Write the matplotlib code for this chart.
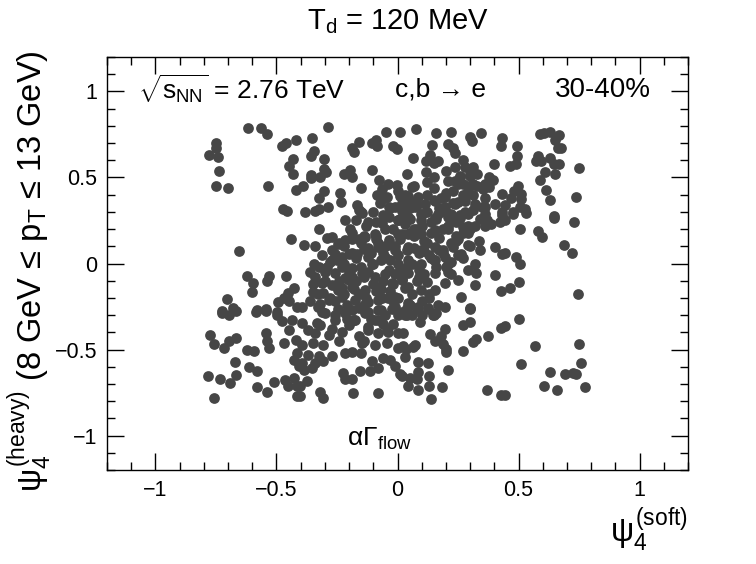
import numpy as np
import matplotlib.pyplot as plt
from matplotlib.ticker import MultipleLocator, FuncFormatter

plt.rcParams['font.family'] = ['Liberation Sans', 'DejaVu Sans']
plt.rcParams['mathtext.fontset'] = 'custom'
plt.rcParams['mathtext.rm'] = 'Liberation Sans'
plt.rcParams['mathtext.it'] = 'Liberation Sans'
plt.rcParams['mathtext.bf'] = 'Liberation Sans:bold'

# event-plane angles (psi_4 soft, psi_4 heavy)
psi_soft = [
    -0.619, -0.562, -0.541, -0.749, -0.748, -0.777, -0.743, -0.736, -0.751, -0.700,
    -0.537, -0.479, -0.459, -0.421, -0.433, -0.449, -0.431, -0.421, -0.474, -0.456,
    -0.288, -0.354, -0.343, -0.357, -0.303, -0.189, -0.178, -0.157, -0.048, 0.012,
    -0.107, -0.088, -0.084, -0.017, -0.003, -0.303, -0.295, -0.357, -0.357, -0.322,
    -0.220, -0.198, -0.189, -0.107, -0.076, -0.390, -0.151, -0.003, -0.304, -0.326,
    -0.238, -0.234, -0.288, -0.381, -0.340, -0.324, -0.167, -0.157, -0.085, -0.065,
    -0.044, -0.071, -0.037, -0.010, 0.011, 0.018,
    0.076, 0.161, 0.220, 0.299, 0.306, 0.343, 0.430, 0.426, 0.143, 0.209,
    0.230, 0.237, 0.065, 0.134, 0.116, 0.150, 0.168, 0.041, 0.116, 0.152,
    0.120, 0.200, 0.237, 0.271, 0.278, 0.313, 0.299, 0.257, 0.237, 0.271,
    0.313, 0.292, 0.354, 0.377, 0.395, 0.400, 0.430, 0.058, 0.044, 0.086,
    0.030, 0.072, 0.113, 0.154, 0.195, 0.195, 0.237, 0.278, 0.319, 0.361,
    0.402, 0.099, 0.168, 0.223, 0.292, 0.361, 0.430,
    0.587, 0.607, 0.628, 0.669, 0.652, 0.662, 0.676, 0.493, 0.495, 0.463,
    0.490, 0.580, 0.573, 0.594, 0.628, 0.646, 0.669, 0.610, 0.649, 0.749,
    0.587, 0.613, 0.497, 0.483, 0.511, 0.470, 0.511, 0.628, 0.738, 0.442,
    0.504, 0.528, 0.476, 0.646,
    -0.439, -0.653, -0.621, -0.598, -0.603, -0.529, -0.538, -0.460, -0.428, -0.452,
    -0.470, -0.493, -0.449, -0.414, -0.704, -0.681, -0.724, -0.580, -0.543, -0.497,
    -0.326, -0.386, -0.196, -0.216, -0.147, -0.120, -0.271, -0.244, -0.216, -0.189,
    -0.161, -0.134, -0.257, -0.230, -0.202, -0.168, -0.120, -0.140, -0.343, -0.326,
    -0.278, -0.230, -0.189, -0.340, -0.299, -0.257, -0.216, -0.313, -0.271, -0.347,
    -0.306, -0.361, -0.320, -0.395, -0.285,
    -0.092, -0.065, -0.037, 0.004, -0.079, -0.037, 0.004, -0.106, -0.051, -0.010,
    -0.147, -0.092, -0.037, 0.004, -0.189, -0.134, -0.079, -0.024, 0.018, -0.230,
    -0.175, -0.120, -0.065, -0.010, -0.244, -0.189, -0.134, -0.079, -0.024, -0.202,
    -0.244,
    0.044, 0.099, 0.154, 0.209, 0.257, 0.299, 0.271, 0.361, 0.388, 0.423,
    0.430, 0.336, 0.402, 0.430, 0.044, 0.099, 0.154, 0.209, 0.251, 0.292,
    0.230, 0.264, 0.044, 0.099, 0.154, 0.195, 0.044, 0.099, 0.154, 0.223,
    0.319, 0.292, 0.326, 0.402, 0.319, 0.427, 0.264, 0.299, 0.251, 0.195,
    0.154, 0.044, 0.099, 0.154, 0.209, 0.044, 0.099, 0.044, 0.086, 0.127,
    0.168, 0.195,
    0.476, 0.532, 0.442, 0.645, 0.731, 0.507, 0.580, 0.596, 0.686, 0.722,
    0.442, 0.490, 0.508, 0.500, 0.463, 0.745,
    -0.724, -0.697, -0.669, -0.583, -0.543, -0.497, -0.479, -0.773, -0.759, -0.718,
    -0.697, -0.669, -0.543, -0.538, -0.532, -0.621, -0.594, -0.672, -0.614, -0.580,
    -0.784, -0.734, -0.690, -0.667, -0.759, -0.580, -0.541, -0.511, -0.466, -0.452,
    -0.428, -0.414, -0.470, -0.449, -0.435, -0.421, -0.428, -0.414, -0.408, -0.414,
    -0.395, -0.368, -0.333, -0.299, -0.257, -0.216, -0.175, -0.134, -0.092, -0.051,
    -0.120, -0.079, -0.044, 0.004, -0.285, -0.340, -0.395, -0.347, -0.306, -0.147,
    -0.095, -0.044, 0.004, -0.368, -0.326, -0.271, -0.306, -0.340, -0.395, -0.388,
    -0.354, -0.216, -0.189, -0.151, -0.106, -0.113, -0.079, -0.058, -0.030, -0.010,
    0.011, -0.227, -0.216, -0.189, -0.154, -0.375, -0.402, -0.320, -0.306, -0.402,
    -0.185, -0.079,
    0.030, 0.079, 0.127, 0.147, 0.161, 0.299, 0.092, 0.271, 0.299, 0.426,
    0.375, 0.326, 0.310, 0.023, 0.134, 0.154, 0.179, 0.195, 0.189, 0.202,
    0.202, 0.269, 0.023, 0.037, 0.072, 0.065, 0.030, 0.086, 0.127, 0.086,
    0.207, 0.017, 0.051, 0.079, 0.131, 0.044, 0.086, 0.131, 0.182, 0.140,
    0.368, 0.427,
    0.501, 0.442, 0.566, 0.749, 0.511, 0.628, 0.759, 0.690, 0.724, 0.738,
    0.605, 0.660, 0.773, 0.442,
    # dense core
    -0.30, -0.28, -0.26, -0.25, -0.23, -0.22, -0.21, -0.20, -0.19, -0.18,
    -0.17, -0.16, -0.15, -0.14, -0.13, -0.12, -0.11, -0.10, -0.09, -0.08,
    -0.07, -0.06, -0.05, -0.04, -0.03, -0.02, -0.01, 0.00, 0.01, 0.02,
    0.03, 0.04, 0.05, 0.06, 0.07, 0.08, 0.09, 0.10, 0.11, 0.12,
    0.13, 0.14, 0.15, 0.16, 0.17, 0.18, 0.19, 0.20, 0.21, 0.22,
    0.23, 0.24, 0.25, 0.26, 0.27, 0.28, 0.29, 0.30, 0.31, 0.33,
    0.34, 0.36, 0.38,
    -0.27, -0.24, -0.20, -0.16, -0.12, -0.08, -0.04, 0.00, -0.33, -0.35,
    -0.31, -0.29, -0.05, 0.00, 0.07, 0.12, -0.10, 0.06, 0.10, 0.15,
    0.05, -0.02, 0.02, -0.15,
    -0.33, -0.31, -0.29, -0.27, -0.26, -0.24, -0.22, -0.21, -0.19, -0.18,
    -0.17, -0.16, -0.15, -0.14, -0.13, -0.12, -0.11, -0.10, -0.09, -0.09,
    -0.08, -0.07, -0.06, -0.06, -0.05, -0.04, -0.03, -0.03, -0.02, -0.01,
    0.00, 0.00, 0.01, 0.02, 0.03, 0.03, 0.04, 0.05, 0.05, 0.06,
    0.07, 0.08, 0.08, 0.09, 0.10, 0.11, 0.12, 0.12, 0.13, 0.14,
    0.15, 0.15, 0.16, 0.17, 0.18, 0.19, 0.20, 0.20, 0.21, 0.22,
    0.23, 0.24, 0.25, 0.25, 0.26, 0.27, 0.28, 0.29, 0.30, 0.31,
    0.32, 0.33, 0.35, 0.36, 0.37, -0.36, -0.34, -0.32, -0.23, -0.14,
    -0.06, 0.02, 0.10,
    -0.02, 0.04, -0.07, 0.09, 0.14, 0.19, 0.24, 0.17, 0.22, 0.27,
    -0.12, -0.17, -0.22, -0.27, -0.05, 0.01, 0.07, -0.09, -0.14, 0.11,
    0.04, -0.01, -0.19, -0.24, 0.13, 0.29, 0.34, 0.21, -0.04, 0.06,
]
psi_heavy = [
    0.785, 0.787, 0.752, 0.702, 0.669, 0.632, 0.620, 0.535, 0.452, 0.436,
    0.448, 0.682, 0.699, 0.717, 0.606, 0.566, 0.519, 0.428, 0.316, 0.306,
    0.795, 0.727, 0.655, 0.622, 0.606, 0.674, 0.649, 0.705, 0.762, 0.763,
    0.703, 0.717, 0.682, 0.684, 0.665, 0.548, 0.533, 0.516, 0.494, 0.500,
    0.523, 0.545, 0.504, 0.545, 0.488, 0.452, 0.436, 0.458, 0.419, 0.378,
    0.407, 0.355, 0.330, 0.300, 0.306, 0.314, 0.341, 0.310, 0.399, 0.432,
    0.384, 0.349, 0.330, 0.330, 0.394, 0.306,
    0.781, 0.758, 0.767, 0.738, 0.709, 0.758, 0.729, 0.680, 0.690, 0.694,
    0.670, 0.645, 0.612, 0.630, 0.593, 0.583, 0.597, 0.523, 0.529, 0.504,
    0.471, 0.539, 0.558, 0.601, 0.558, 0.558, 0.510, 0.510, 0.481, 0.462,
    0.462, 0.423, 0.432, 0.442, 0.484, 0.577, 0.403, 0.442, 0.394, 0.384,
    0.345, 0.326, 0.345, 0.364, 0.384, 0.326, 0.345, 0.364, 0.345, 0.326,
    0.345, 0.287, 0.287, 0.287, 0.287, 0.287, 0.297,
    0.752, 0.756, 0.766, 0.748, 0.717, 0.674, 0.670, 0.684, 0.626, 0.568,
    0.577, 0.626, 0.597, 0.593, 0.612, 0.577, 0.577, 0.533, 0.523, 0.554,
    0.488, 0.430, 0.452, 0.423, 0.403, 0.380, 0.374, 0.368, 0.384, 0.341,
    0.330, 0.316, 0.297, 0.277,
    0.140, 0.074, -0.072, -0.112, -0.163, -0.074, -0.101, -0.072, -0.145, -0.174,
    -0.203, -0.223, -0.217, -0.252, -0.207, -0.256, -0.275, -0.271, -0.267, -0.281,
    0.200, 0.107, 0.200, 0.252, 0.291, 0.242, 0.155, 0.116, 0.135, 0.145,
    0.145, 0.155, 0.058, 0.039, 0.058, 0.058, 0.039, 0.087, 0.000, -0.019,
    0.010, -0.019, -0.029, -0.077, -0.048, -0.058, -0.087, -0.116, -0.126, -0.165,
    -0.174, -0.217, -0.233, -0.252, -0.213,
    0.174, 0.233, 0.271, 0.252, 0.097, 0.135, 0.174, 0.000, 0.039, 0.078,
    -0.058, -0.077, -0.039, 0.000, -0.135, -0.155, -0.135, -0.116, -0.097, -0.194,
    -0.213, -0.223, -0.203, -0.194, -0.262, -0.271, -0.275, -0.271, -0.262, -0.097,
    -0.155,
    0.271, 0.252, 0.262, 0.271, 0.262, 0.203, 0.213, 0.217, 0.227, 0.242,
    0.281, 0.130, 0.097, 0.058, 0.174, 0.174, 0.194, 0.203, 0.145, 0.107,
    0.097, 0.058, 0.097, 0.078, 0.097, 0.039, 0.019, 0.000, 0.019, 0.010,
    0.000, -0.039, -0.058, -0.068, -0.126, -0.159, -0.194, -0.256, -0.097, -0.116,
    -0.155, -0.058, -0.077, -0.058, -0.048, -0.135, -0.155, -0.229, -0.252, -0.256,
    -0.242, -0.252,
    0.285, 0.291, 0.252, 0.262, 0.242, 0.200, 0.190, 0.155, 0.107, 0.062,
    0.062, 0.039, -0.004, -0.107, -0.140, -0.180,
    -0.287, -0.297, -0.277, -0.283, -0.277, -0.297, -0.335, -0.413, -0.465, -0.490,
    -0.452, -0.432, -0.403, -0.452, -0.490, -0.504, -0.510, -0.572, -0.601, -0.622,
    -0.655, -0.669, -0.694, -0.649, -0.781, -0.717, -0.746, -0.690, -0.678, -0.713,
    -0.665, -0.713, -0.461, -0.384, -0.326, -0.442, -0.558, -0.519, -0.597, -0.771,
    -0.345, -0.384, -0.345, -0.287, -0.326, -0.287, -0.326, -0.287, -0.326, -0.297,
    -0.384, -0.403, -0.384, -0.403, -0.413, -0.403, -0.471, -0.461, -0.471, -0.461,
    -0.471, -0.461, -0.490, -0.529, -0.539, -0.535, -0.568, -0.578, -0.578, -0.616,
    -0.607, -0.519, -0.513, -0.519, -0.568, -0.626, -0.607, -0.549, -0.558, -0.597,
    -0.645, -0.636, -0.674, -0.674, -0.626, -0.684, -0.713, -0.748, -0.781, -0.771,
    -0.752, -0.752,
    -0.297, -0.267, -0.267, -0.297, -0.287, -0.267, -0.339, -0.360, -0.341, -0.374,
    -0.419, -0.438, -0.457, -0.403, -0.409, -0.452, -0.423, -0.380, -0.465, -0.496,
    -0.516, -0.506, -0.481, -0.496, -0.471, -0.487, -0.545, -0.574, -0.581, -0.630,
    -0.620, -0.651, -0.665, -0.674, -0.655, -0.709, -0.738, -0.713, -0.719, -0.785,
    -0.736, -0.762,
    -0.322, -0.364, -0.481, -0.467, -0.583, -0.630, -0.578, -0.641, -0.636, -0.641,
    -0.713, -0.736, -0.715, -0.762,
    # dense core
    -0.10, -0.20, -0.30, 0.02, -0.14, 0.10, -0.24, -0.05, 0.18, -0.33,
    0.03, -0.18, 0.12, -0.08, 0.22, -0.28, 0.06, -0.12, 0.16, -0.21,
    0.02, 0.28, -0.06, 0.11, -0.16, 0.20, -0.25, 0.05, 0.14, -0.09,
    0.23, -0.02, 0.32, -0.18, 0.09, 0.20, -0.04, 0.29, 0.13, -0.11,
    0.05, 0.24, 0.37, -0.02, 0.15, 0.31, 0.08, 0.41, 0.22, -0.06,
    0.35, 0.13, 0.46, 0.28, 0.03, 0.40, 0.18, 0.52, 0.31, 0.45,
    0.26, 0.38, 0.50,
    -0.38, -0.45, -0.36, -0.42, -0.37, -0.33, -0.40, -0.30, -0.25, -0.12,
    0.05, 0.15, 0.38, 0.42, 0.45, 0.40, 0.30, -0.30, -0.22, -0.30,
    0.18, -0.35, 0.35, 0.30,
    -0.18, -0.28, -0.02, 0.08, -0.22, -0.10, 0.00, -0.32, 0.06, -0.15,
    0.25, -0.26, -0.02, 0.16, -0.20, 0.09, -0.32, 0.00, 0.24, -0.16,
    0.12, -0.27, 0.06, -0.10, 0.20, -0.20, 0.02, 0.32, -0.12, 0.10,
    -0.20, 0.25, -0.04, 0.17, -0.14, 0.40, 0.08, -0.24, 0.26, 0.00,
    0.16, -0.10, 0.34, 0.06, 0.22, -0.06, 0.30, 0.12, -0.18, 0.18,
    0.02, 0.44, 0.26, 0.08, 0.38, 0.20, -0.02, 0.30, 0.48, 0.12,
    0.42, 0.24, 0.05, 0.36, 0.50, 0.18, 0.30, 0.45, 0.10, 0.40,
    0.22, 0.52, 0.33, 0.46, 0.25, -0.05, 0.10, -0.36, -0.40, -0.45,
    -0.35, -0.28, -0.30,
    -0.22, -0.30, -0.15, -0.08, 0.03, 0.06, 0.16, 0.32, 0.27, 0.40,
    -0.05, -0.10, -0.18, 0.02, 0.10, 0.26, 0.20, 0.14, -0.24, 0.07,
    -0.26, -0.06, -0.08, 0.12, -0.20, 0.22, 0.08, 0.00, 0.46, 0.36,
]

fig = plt.figure(figsize=(7.56, 5.64), dpi=100)
ax = fig.add_axes([107/756, 94/564, 581/756, 413/564])

ax.scatter(psi_soft, psi_heavy, s=60, c='#464646', linewidths=0)

ax.set_xlim(-1.2, 1.2)
ax.set_ylim(-1.2, 1.2)
fmt = FuncFormatter(lambda v, pos: ('%g' % v).replace('-', '\u2212'))
for a in (ax.xaxis, ax.yaxis):
    a.set_major_locator(MultipleLocator(0.5))
    a.set_minor_locator(MultipleLocator(0.1))
    a.set_major_formatter(fmt)
ax.tick_params(which='both', direction='in', top=True, right=True, labelsize=15.5, width=1)
ax.tick_params(which='major', length=12, pad=7)
ax.tick_params(which='minor', length=6)
for sp in ax.spines.values():
    sp.set_linewidth(1)

fig.text(397.5/756, 1 - 22/564, r'T$_{\rm d}$ = 120 MeV', ha='center', va='center', fontsize=21)

ax.text(-1.07, 1.01, r'$\sqrt{s_{\rm NN}}$ = 2.76 TeV', ha='left', va='center', fontsize=19)
ax.text(-0.01, 1.01, 'c,b \u2192 e', ha='left', va='center', fontsize=19)
ax.text(0.65, 1.01, '30-40%', ha='left', va='center', fontsize=20)
ax.text(-0.21, -1.02, r'$\alpha\Gamma_{\rm flow}$', ha='left', va='center', fontsize=19)

ylab = r'$\psi_4^{\rm (heavy)}$' + ' (8 GeV \u2264 p' + r'$_{\rm T}$' + ' \u2264 13 GeV)'
fig.text(30/756, 1 - 50/564, ylab, rotation=90, ha='center', va='top', fontsize=23.5)
fig.text(688/756, 1 - 530/564, r'$\psi_4^{\rm (soft)}$', ha='right', va='center', fontsize=23.5)

fig.savefig('out.png', dpi=100)
